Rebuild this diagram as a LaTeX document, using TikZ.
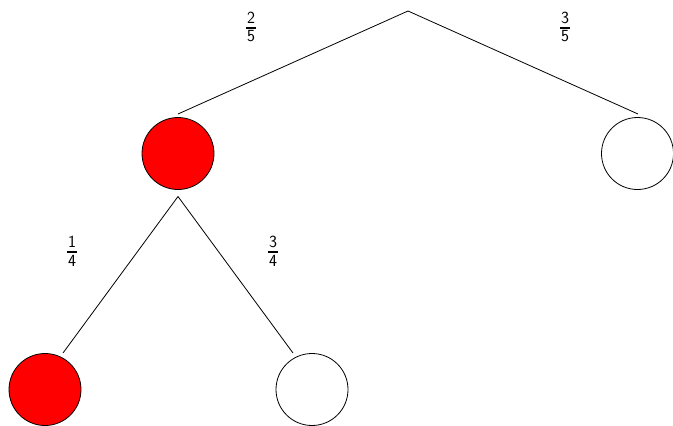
\documentclass[tikz,border=0pt]{standalone}
\begin{document}
\begin{tikzpicture}[x=1pt,y=-1pt,
  ball/.style={circle,draw=black,line width=0.8pt,minimum size=72pt,inner sep=0pt},
  edge/.style={draw=black,line width=0.8pt},
  digit/.style={font=\sffamily\fontsize{17}{17}\selectfont,inner sep=0pt,anchor=center}]
\useasboundingbox (0,0) rectangle (673,426);
\coordinate (r) at (408,11);
\node[ball,fill=red] (a) at (178,153.5) {};
\node[ball] (b) at (637.5,153.5) {};
\node[ball,fill=red] (c) at (45,389.5) {};
\node[ball] (d) at (312,389.5) {};
\coordinate (ain) at (178,114);
\coordinate (aout) at (178,196.5);
\coordinate (bin) at (638,114);
\coordinate (cin) at (63,353);
\coordinate (din) at (293,353);
\draw[edge] (ain) -- (r) -- (bin);
\draw[edge] (cin) -- (aout) -- (din);
\newcommand\myfrac[4]{%
  \node[digit] (#1n) at (#2,{#3-10}) {#4};
  \fill (#2-5,#3-1.3) rectangle (#2+5,#3+1.3);
}
\newcommand\myden[4]{\node[digit] (#1d) at (#2,{#3+8.5}) {#4};}
\myfrac{f1}{251}{27.8}{2}\myden{f1}{251}{27.8}{5}
\myfrac{f2}{565}{27.8}{3}\myden{f2}{565}{27.8}{5}
\myfrac{f3}{72}{252}{1}\myden{f3}{72}{252}{4}
\myfrac{f4}{273}{252}{3}\myden{f4}{273}{252}{4}
\end{tikzpicture}
\end{document}
